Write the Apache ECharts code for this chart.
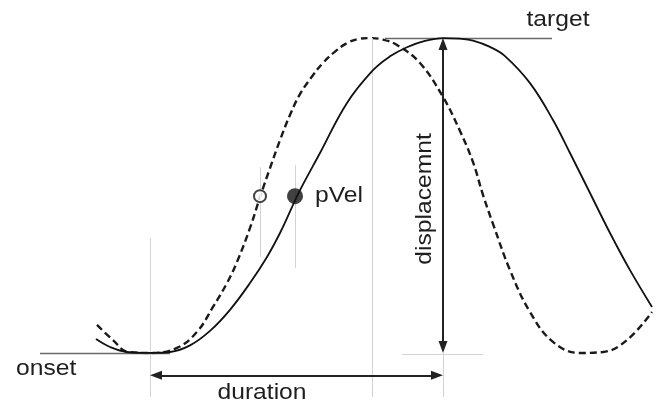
<!DOCTYPE html>
<html>
<head>
<meta charset="utf-8">
<script src="https://cdn.jsdelivr.net/npm/echarts@6/dist/echarts.min.js"></script>
<style>
  html, body { margin: 0; padding: 0; background: #fff; }
  #chart { width: 662px; height: 409px; }
</style>
</head>
<body>
<div id="chart"></div>
<script>
// Time (ms from onset) and displacement (target = 10)
const solidTime = [-54, -40, -23, 0, 20, 40, 60, 80, 100, 117, 130, 142, 150, 170, 197, 223, 240, 257, 275, 293, 310, 323, 340, 355, 380, 403, 420, 440, 460, 480, 502];
const solidDisp = [0.44, 0.19, 0.03, 0, 0.03, 0.24, 0.70, 1.37, 2.22, 3.05, 3.81, 4.63, 5.17, 6.35, 7.94, 8.98, 9.42, 9.71, 9.91, 10, 9.98, 9.92, 9.72, 9.43, 8.57, 7.40, 6.35, 5.08, 3.81, 2.63, 1.46];

const dashedTime = [-53, -37, -22, 0, 27, 47, 63, 77, 87, 100, 110, 120, 130, 140, 150, 162, 173, 185, 197, 208, 220, 233, 247, 270, 293, 310, 323, 333, 343, 360, 380, 403, 430, 453, 477, 502];
const dashedDisp = [0.89, 0.41, 0.03, 0, 0.16, 0.67, 1.46, 2.22, 2.89, 3.97, 4.95, 5.87, 6.76, 7.56, 8.22, 8.78, 9.21, 9.57, 9.84, 9.97, 10, 9.95, 9.78, 9.21, 8.13, 7.05, 6.06, 5.02, 4.10, 2.63, 1.30, 0.35, 0, 0.03, 0.41, 1.30];

// Key events
const onsetTime = 0;
const targetTime = 293;
const dashedPeakTime = 222;
const pVelTime = 145;
const pVelDashedTime = 110;
const onsetDisp = 0;
const targetDisp = 10;
const pVelDisp = 4.98;

// Annotation texts
const labelTexts = ['onset', 'duration', 'target', 'pVel', 'displacemnt'];

const pxPerY = 31.5;
const pair = (a, b) => a.map((v, i) => [v, b[i]]);

const lightGuides = [
  [[onsetTime, 3.65], [onsetTime, -1.4]],
  [[dashedPeakTime, targetDisp], [dashedPeakTime, -1.4]],
  [[targetTime, onsetDisp], [targetTime, -1.4]],
  [[pVelDashedTime, 5.9], [pVelDashedTime, 3.05]],
  [[pVelTime, 5.97], [pVelTime, 2.7]],
  [[252, -0.03], [333, -0.03]]
];
const darkGuides = [
  [[-110, onsetDisp], [20, onsetDisp]],
  [[235, targetDisp], [402, targetDisp]]
];
const ah = 6; // half arrow length in px
const durY = -0.71;
const arrows = [
  [[onsetTime + ah, durY], [targetTime - ah, durY]],
  [[targetTime, onsetDisp + ah / pxPerY], [targetTime, targetDisp - ah / pxPerY]]
];

const toML = (segs) => segs.map(s => [{ coord: s[0] }, { coord: s[1] }]);

const chart = echarts.init(document.getElementById('chart'));
chart.setOption({
  animation: false,
  backgroundColor: '#fff',
  grid: { left: 0, right: 0, top: 0, bottom: 0 },
  xAxis: { type: 'value', min: -150, max: 512, show: false },
  yAxis: { type: 'value', min: -1.78, max: 11.21, show: false },
  series: [
    {
      type: 'line', z: 1, data: [[onsetTime, onsetDisp]], showSymbol: false,
      lineStyle: { width: 0 }, silent: true,
      markLine: {
        silent: true, symbol: ['none', 'none'], animation: false,
        label: { show: false },
        lineStyle: { color: '#d4d4d4', width: 1, type: 'solid' },
        data: toML(lightGuides)
      }
    },
    {
      type: 'line', z: 2, data: [[onsetTime, onsetDisp]], showSymbol: false,
      lineStyle: { width: 0 }, silent: true,
      markLine: {
        silent: true, symbol: ['none', 'none'], animation: false,
        label: { show: false },
        lineStyle: { color: '#6a6a6a', width: 1.3, type: 'solid' },
        data: toML(darkGuides)
      }
    },
    {
      type: 'line', z: 3, data: [[onsetTime, onsetDisp]], showSymbol: false,
      lineStyle: { width: 0 }, silent: true,
      markLine: {
        silent: true, symbol: ['triangle', 'triangle'], symbolSize: [9, 12], animation: false,
        label: { show: false },
        lineStyle: { color: '#222', width: 2, type: 'solid' },
        itemStyle: { color: '#222' },
        data: toML(arrows)
      }
    },
    {
      name: 'dashed', type: 'line', z: 4, smooth: 0.4, showSymbol: false, clip: false,
      data: pair(dashedTime, dashedDisp),
      lineStyle: { color: '#1a1a1a', width: 2.4, type: [7, 4] }
    },
    {
      name: 'solid', type: 'line', z: 5, smooth: 0.4, showSymbol: false, clip: false,
      data: pair(solidTime, solidDisp),
      lineStyle: { color: '#111', width: 1.8 }
    },
    {
      type: 'scatter', z: 6,
      data: [
        { value: [pVelDashedTime, pVelDisp], symbolSize: 12, itemStyle: { color: '#fff', borderColor: '#111', borderWidth: 2 } },
        { value: [pVelTime, pVelDisp], symbolSize: 16, itemStyle: { color: '#111' } }
      ]
    }
  ]
});

const font = '22px "Liberation Sans", Arial, Helvetica, sans-serif';
const labelAt = [
  { pos: [-134, -0.51], align: 'left', rot: 0 },
  { pos: [112, -1.27], align: 'center', rot: 0 },
  { pos: [408, 10.57], align: 'center', rot: 0 },
  { pos: [165, 4.98], align: 'left', rot: 0 },
  { pos: [275, 4.89], align: 'center', rot: Math.PI / 2 }
];
const graphics = labelTexts.map((t, i) => {
  const p = chart.convertToPixel({ gridIndex: 0 }, labelAt[i].pos);
  return {
    type: 'text', x: p[0], y: p[1], rotation: labelAt[i].rot, scaleX: 1.12, z: 10,
    style: { text: t, font: font, fill: '#1e1e1e', textAlign: labelAt[i].align, textVerticalAlign: 'middle' }
  };
});
chart.setOption({ graphic: graphics });
</script>
</body>
</html>
